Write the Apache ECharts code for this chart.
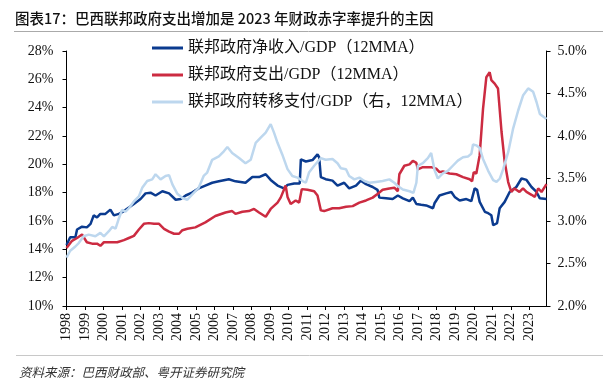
<!DOCTYPE html>
<html>
<head>
<meta charset="utf-8">
<script src="https://cdn.jsdelivr.net/npm/echarts@6/dist/echarts.min.js"></script>
<style>
html,body{margin:0;padding:0;background:#fff;}
#chart{width:603px;height:390px;}
</style>
</head>
<body>
<div id="chart"></div>
<script>
// ---- Data (x = fractional year) ----
const titleText = '图表17：巴西联邦政府支出增加是 2023 年财政赤字率提升的主因';
const sourceText = '资料来源：巴西财政部、粤开证券研究院';
const seriesNames = ['联邦政府净收入/GDP（12MMA）', '联邦政府支出/GDP（12MMA）', '联邦政府转移支付/GDP（右，12MMA）'];

const revenue = [
  [1998.0,14.3],[1998.2,14.85],[1998.48,14.85],[1998.57,15.4],[1998.84,15.6],[1999.1,15.55],[1999.3,15.8],
  [1999.47,16.4],[1999.65,16.25],[1999.83,16.5],[2000.1,16.5],[2000.37,16.8],[2000.56,16.4],[2000.83,16.5],
  [2001.1,16.7],[2001.37,16.95],[2001.64,17.2],[2002.0,17.55],[2002.27,17.95],[2002.54,18.0],[2002.81,17.8],
  [2003.18,18.1],[2003.54,17.95],[2003.9,17.5],[2004.17,17.55],[2004.44,17.8],[2004.78,18.0],[2005.14,18.3],
  [2005.5,18.5],[2005.87,18.7],[2006.23,18.8],[2006.77,18.95],[2007.13,18.8],[2007.67,18.7],[2008.04,19.1],
  [2008.4,19.1],[2008.76,19.3],[2009.03,18.9],[2009.4,18.5],[2009.75,18.3],[2009.94,18.55],[2010.3,18.65],
  [2010.6,18.65],[2010.66,20.35],[2010.93,20.2],[2011.29,20.3],[2011.56,20.7],[2011.65,20.5],[2011.74,19.1],
  [2012.0,18.95],[2012.37,18.85],[2012.64,18.5],[2013.0,18.7],[2013.27,18.3],[2013.64,18.5],[2013.9,18.85],
  [2014.18,18.6],[2014.54,18.4],[2014.8,18.2],[2014.9,17.65],[2015.26,17.6],[2015.62,17.55],[2015.9,17.8],
  [2016.17,17.6],[2016.53,17.4],[2016.71,17.65],[2016.9,17.2],[2017.16,17.15],[2017.43,17.1],[2017.8,16.9],
  [2017.88,17.25],[2018.15,17.8],[2018.51,17.95],[2018.79,18.05],[2018.97,17.7],[2019.24,17.45],[2019.6,17.55],
  [2019.87,17.4],[2020.05,18.3],[2020.18,18.2],[2020.32,17.35],[2020.6,16.65],[2020.78,16.55],[2020.95,16.4],
  [2021.05,15.7],[2021.13,15.6],[2021.26,15.85],[2021.4,16.9],[2021.67,17.35],[2021.94,18.05],[2022.3,18.4],
  [2022.58,19.0],[2022.85,18.9],[2023.12,18.4],[2023.39,18.05],[2023.57,17.6],[2023.93,17.55]
];

const spending = [
  [1998.0,14.1],[1998.3,14.6],[1998.57,14.8],[1998.84,15.05],[1998.93,14.85],[1999.1,14.5],[1999.38,14.4],
  [1999.65,14.4],[1999.83,14.25],[2000.02,14.5],[2000.37,14.5],[2000.74,14.5],[2001.1,14.65],[2001.37,14.8],
  [2001.64,14.95],[2001.91,15.4],[2002.18,15.8],[2002.45,15.85],[2002.73,15.8],[2003.0,15.8],[2003.27,15.45],
  [2003.54,15.25],[2003.81,15.1],[2004.08,15.1],[2004.26,15.35],[2004.53,15.45],[2004.96,15.55],[2005.5,15.9],
  [2006.04,16.35],[2006.59,16.6],[2006.95,16.7],[2007.13,16.5],[2007.5,16.65],[2007.85,16.7],[2008.13,16.85],
  [2008.4,16.6],[2008.76,16.3],[2009.03,16.85],[2009.4,17.3],[2009.57,17.65],[2009.84,18.5],[2009.94,17.7],
  [2010.11,17.2],[2010.38,17.45],[2010.57,17.3],[2010.71,18.25],[2011.02,18.2],[2011.38,18.1],[2011.56,17.8],
  [2011.74,16.75],[2011.92,16.7],[2012.37,16.9],[2012.73,16.9],[2013.1,17.0],[2013.46,17.05],[2013.82,17.3],
  [2014.18,17.45],[2014.54,17.65],[2014.8,17.9],[2015.08,18.2],[2015.44,18.3],[2015.71,18.35],[2015.9,18.1],
  [2015.98,19.3],[2016.25,19.9],[2016.53,20.0],[2016.71,20.25],[2016.9,20.1],[2016.98,19.65],[2017.25,19.8],
  [2017.52,19.8],[2017.7,19.8],[2017.97,19.7],[2018.15,19.45],[2018.33,19.5],[2018.69,19.35],[2019.06,19.3],
  [2019.42,19.1],[2019.78,18.95],[2019.91,18.8],[2020.0,19.45],[2020.14,19.35],[2020.32,20.65],[2020.5,23.9],
  [2020.68,26.15],[2020.86,26.5],[2020.95,25.95],[2021.13,25.7],[2021.31,25.35],[2021.5,22.3],[2021.67,20.2],
  [2021.86,18.75],[2022.03,18.05],[2022.2,18.3],[2022.47,18.05],[2022.66,18.3],[2022.85,18.05],[2023.12,17.85],
  [2023.3,17.7],[2023.48,18.3],[2023.66,18.05],[2023.93,18.6]
];

const transfers = [
  [1998.0,2.57],[1998.2,2.65],[1998.48,2.7],[1998.66,2.74],[1998.93,2.82],[1999.2,2.84],[1999.56,2.82],
  [1999.83,2.86],[2000.02,2.82],[2000.29,2.88],[2000.47,2.93],[2000.65,2.91],[2000.83,3.03],[2001.0,3.13],
  [2001.19,3.11],[2001.37,3.15],[2001.64,3.23],[2001.91,3.29],[2002.09,3.39],[2002.36,3.47],[2002.63,3.49],
  [2002.81,3.55],[2003.08,3.49],[2003.35,3.53],[2003.54,3.54],[2003.72,3.43],[2003.99,3.32],[2004.26,3.27],
  [2004.53,3.25],[2004.78,3.31],[2005.14,3.39],[2005.41,3.53],[2005.6,3.57],[2005.87,3.72],[2006.23,3.76],
  [2006.5,3.82],[2006.69,3.87],[2006.95,3.8],[2007.32,3.74],[2007.67,3.68],[2007.95,3.72],[2008.22,3.92],
  [2008.49,3.98],[2008.76,4.04],[2009.03,4.14],[2009.21,4.04],[2009.4,3.92],[2009.66,3.78],[2009.94,3.61],
  [2010.2,3.53],[2010.48,3.51],[2010.75,3.47],[2010.93,3.45],[2011.1,3.57],[2011.38,3.65],[2011.74,3.74],
  [2012.0,3.72],[2012.37,3.73],[2012.64,3.68],[2012.82,3.62],[2013.1,3.61],[2013.27,3.53],[2013.55,3.49],
  [2013.82,3.51],[2014.09,3.47],[2014.36,3.45],[2014.72,3.46],[2015.08,3.47],[2015.44,3.49],[2015.71,3.45],
  [2015.9,3.41],[2016.17,3.37],[2016.53,3.35],[2016.74,3.33],[2016.9,3.45],[2016.98,3.65],[2017.25,3.68],
  [2017.52,3.74],[2017.7,3.8],[2017.88,3.6],[2018.06,3.5],[2018.33,3.56],[2018.6,3.59],[2018.87,3.65],
  [2019.14,3.71],[2019.42,3.75],[2019.69,3.76],[2019.87,3.79],[2019.96,3.9],[2020.14,3.89],[2020.32,3.86],
  [2020.5,3.73],[2020.78,3.59],[2021.05,3.48],[2021.23,3.46],[2021.41,3.5],[2021.59,3.61],[2021.86,3.81],
  [2022.13,4.09],[2022.4,4.3],[2022.67,4.48],[2022.94,4.56],[2023.21,4.52],[2023.39,4.4],[2023.57,4.26],
  [2023.93,4.2]
];

const colors = ['#0B3B8F', '#CC2B41', '#BDD7EE'];
const serifLatin = '"Liberation Serif", "Times New Roman", "Noto Sans CJK SC", serif';

const chart = echarts.init(document.getElementById('chart'), null, {renderer: 'canvas'});
chart.setOption({
  animation: false,
  backgroundColor: '#fff',
  title: {
    text: titleText,
    left: 15, top: 11, padding: 0,
    textStyle: {fontSize: 14.5, fontWeight: 500, color: '#111', fontFamily: '"Noto Sans CJK SC", sans-serif'}
  },
  graphic: [
    {type: 'line', shape: {x1: 14, y1: 31.5, x2: 603, y2: 31.5}, style: {stroke: '#aaaaaa', lineWidth: 1}},
    {type: 'line', shape: {x1: 16, y1: 355.5, x2: 603, y2: 355.5}, style: {stroke: '#c8c8c8', lineWidth: 1}},
    {type: 'text', left: 19, top: 366, style: {text: sourceText, fontSize: 12.5, fill: '#333', fontStyle: 'italic', fontFamily: '"Noto Sans CJK SC", sans-serif'}}
  ],
  legend: {
    orient: 'vertical',
    left: 152, top: 40, padding: 0,
    itemWidth: 31, itemHeight: 3,
    itemGap: 11,
    icon: 'rect',
    data: seriesNames,
    textStyle: {fontSize: 16, color: '#111', fontFamily: serifLatin, lineHeight: 16}
  },
  grid: {left: 66.5, right: 56.5, top: 51, bottom: 84, containLabel: false},
  xAxis: {
    type: 'value',
    min: 1998, max: 2023.93, interval: 1,
    splitLine: {show: false},
    axisLine: {lineStyle: {color: '#000', width: 1}},
    axisTick: {show: true, length: 4, lineStyle: {color: '#000'}},
    axisLabel: {
      rotate: 90, margin: 7, fontSize: 14, color: '#111', fontFamily: serifLatin,
      showMaxLabel: false,
      formatter: v => (Math.abs(v - Math.round(v)) < 1e-6 ? String(Math.round(v)) : '')
    }
  },
  yAxis: [
    {
      type: 'value', min: 10, max: 28, interval: 2,
      splitLine: {show: false},
      axisLine: {show: true, lineStyle: {color: '#000', width: 1}},
      axisTick: {show: true, length: 4, lineStyle: {color: '#000'}},
      axisLabel: {fontSize: 14, color: '#111', margin: 13, fontFamily: serifLatin, formatter: v => v + '%'}
    },
    {
      type: 'value', min: 2, max: 5, interval: 0.5,
      position: 'right',
      splitLine: {show: false},
      axisLine: {show: true, lineStyle: {color: '#000', width: 1}},
      axisTick: {show: true, length: 4, lineStyle: {color: '#000'}},
      axisLabel: {fontSize: 14, color: '#111', margin: 11, fontFamily: serifLatin, formatter: v => v.toFixed(1) + '%'}
    }
  ],
  series: [
    {name: seriesNames[0], type: 'line', data: revenue, yAxisIndex: 0, showSymbol: false, symbol: 'none',
     lineStyle: {color: colors[0], width: 2.5}, itemStyle: {color: colors[0]}},
    {name: seriesNames[1], type: 'line', data: spending, yAxisIndex: 0, showSymbol: false, symbol: 'none',
     lineStyle: {color: colors[1], width: 2.5}, itemStyle: {color: colors[1]}},
    {name: seriesNames[2], type: 'line', data: transfers, yAxisIndex: 1, showSymbol: false, symbol: 'none',
     lineStyle: {color: colors[2], width: 2.5}, itemStyle: {color: colors[2]}}
  ]
});
</script>
</body>
</html>
